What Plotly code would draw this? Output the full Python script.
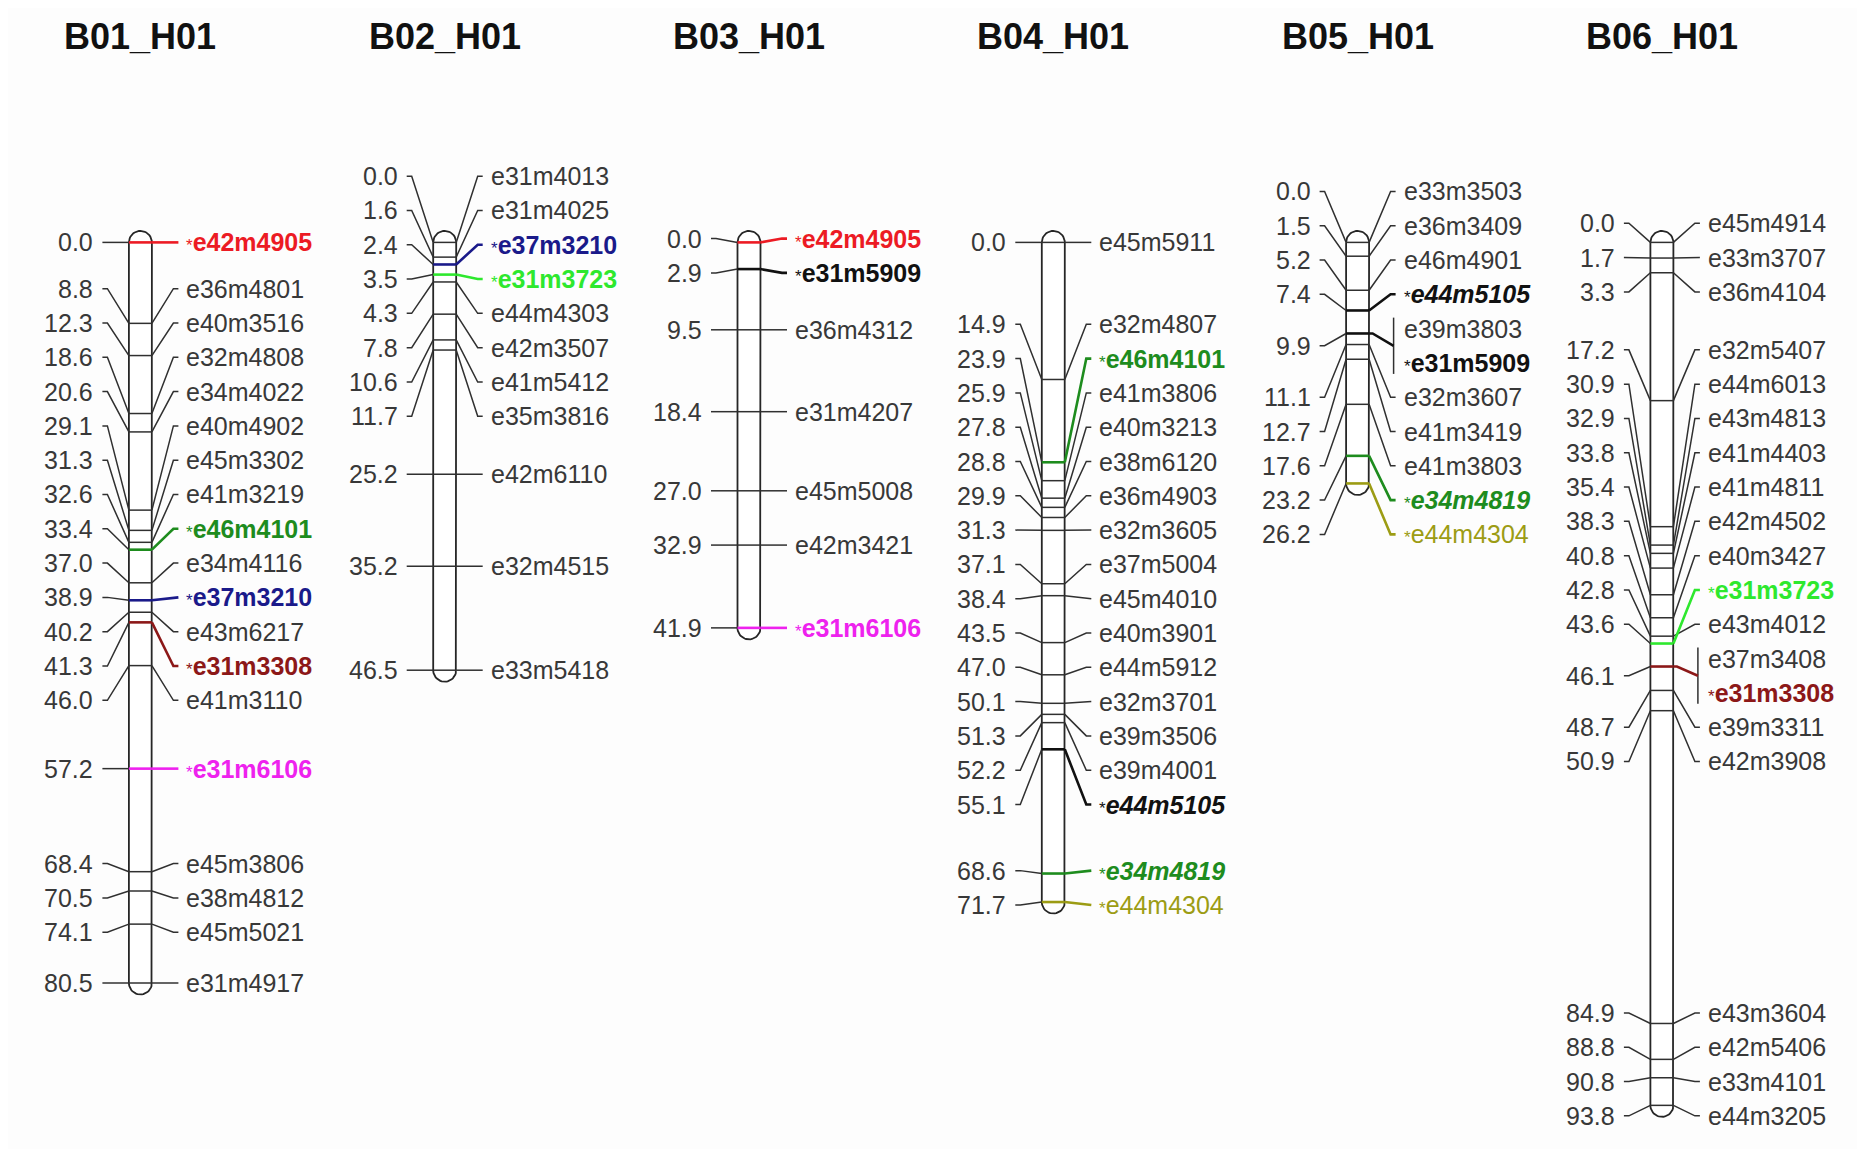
import numpy as np
import plotly.graph_objects as go

# ---------------- data ----------------
CHROMS = ["B01_H01", "B02_H01", "B03_H01", "B04_H01", "B05_H01", "B06_H01"]

B01_MARKERS = ["*e42m4905", "e36m4801", "e40m3516", "e32m4808", "e34m4022", "e40m4902",
               "e45m3302", "e41m3219", "*e46m4101", "e34m4116", "*e37m3210", "e43m6217",
               "*e31m3308", "e41m3110", "*e31m6106", "e45m3806", "e38m4812", "e45m5021",
               "e31m4917"]
B01_POS = [0.0, 8.8, 12.3, 18.6, 20.6, 29.1, 31.3, 32.6, 33.4, 37.0, 38.9, 40.2, 41.3,
           46.0, 57.2, 68.4, 70.5, 74.1, 80.5]

B02_MARKERS = ["e31m4013", "e31m4025", "*e37m3210", "*e31m3723", "e44m4303", "e42m3507",
               "e41m5412", "e35m3816", "e42m6110", "e32m4515", "e33m5418"]
B02_POS = [0.0, 1.6, 2.4, 3.5, 4.3, 7.8, 10.6, 11.7, 25.2, 35.2, 46.5]

B03_MARKERS = ["*e42m4905", "*e31m5909", "e36m4312", "e31m4207", "e45m5008", "e42m3421",
               "*e31m6106"]
B03_POS = [0.0, 2.9, 9.5, 18.4, 27.0, 32.9, 41.9]

B04_MARKERS = ["e45m5911", "e32m4807", "*e46m4101", "e41m3806", "e40m3213", "e38m6120",
               "e36m4903", "e32m3605", "e37m5004", "e45m4010", "e40m3901", "e44m5912",
               "e32m3701", "e39m3506", "e39m4001", "*e44m5105", "*e34m4819", "*e44m4304"]
B04_POS = [0.0, 14.9, 23.9, 25.9, 27.8, 28.8, 29.9, 31.3, 37.1, 38.4, 43.5, 47.0, 50.1,
           51.3, 52.2, 55.1, 68.6, 71.7]

B05_MARKERS = ["e33m3503", "e36m3409", "e46m4901", "*e44m5105", "e39m3803", "*e31m5909",
               "e32m3607", "e41m3419", "e41m3803", "*e34m4819", "*e44m4304"]
B05_POS = [0.0, 1.5, 5.2, 7.4, 9.9, 9.9, 11.1, 12.7, 17.6, 23.2, 26.2]

B06_MARKERS = ["e45m4914", "e33m3707", "e36m4104", "e32m5407", "e44m6013", "e43m4813",
               "e41m4403", "e41m4811", "e42m4502", "e40m3427", "*e31m3723", "e43m4012",
               "e37m3408", "*e31m3308", "e39m3311", "e42m3908", "e43m3604", "e42m5406",
               "e33m4101", "e44m3205"]
B06_POS = [0.0, 1.7, 3.3, 17.2, 30.9, 32.9, 33.8, 35.4, 38.3, 40.8, 43.6, 42.8, 46.1,
           46.1, 48.7, 50.9, 84.9, 88.8, 90.8, 93.8]

MARKERS = [B01_MARKERS, B02_MARKERS, B03_MARKERS, B04_MARKERS, B05_MARKERS, B06_MARKERS]
POSITIONS = [B01_POS, B02_POS, B03_POS, B04_POS, B05_POS, B06_POS]

# ---------------- styles ----------------
HIGHLIGHT = {
    "*e42m4905": dict(color="#ec1b24", bold=True, italic=False),
    "*e46m4101": dict(color="#1e8c1e", bold=True, italic=False),
    "*e37m3210": dict(color="#1a1a8a", bold=True, italic=False),
    "*e31m3308": dict(color="#8c1818", bold=True, italic=False),
    "*e31m6106": dict(color="#ee22ee", bold=True, italic=False),
    "*e31m3723": dict(color="#2ee82e", bold=True, italic=False),
    "*e31m5909": dict(color="#111111", bold=True, italic=False),
    "*e44m5105": dict(color="#111111", bold=True, italic=True),
    "*e34m4819": dict(color="#1e8c1e", bold=True, italic=True),
    "*e44m4304": dict(color="#9c9c14", bold=False, italic=False),
}

FIG_W, FIG_H = 1849, 1141          # page body keeps an 8px margin
COL0_PX, COL_STEP_PX = 132.4, 304.3
CM0_PX, PX_PER_CM = 234.4, 9.2
TITLE_PX = 28.0
BAR_HALF = 11.5
SLOT_PX = 34.3
LINE_COLOR = "#303030"
TEXT_COLOR = "#383838"
FONT = "Liberation Sans, Arial, sans-serif"

ux = 1.0 / COL_STEP_PX
uy = 1.0 / PX_PER_CM
GAP = SLOT_PX * uy


def spread(pos, gap):
    groups = [[i] for i in range(len(pos))]

    def top(g):
        c = (pos[g[0]] + pos[g[-1]]) / 2.0
        return c - (len(g) - 1) / 2.0 * gap

    changed = True
    while changed:
        changed = False
        for k in range(len(groups) - 1):
            a, b = groups[k], groups[k + 1]
            a_bottom = top(a) + (len(a) - 1) * gap
            if top(b) - a_bottom < gap - 1e-9:
                groups[k] = a + b
                del groups[k + 1]
                changed = True
                break
    slots = []
    for g in groups:
        t = top(g)
        slots += [t + j * gap for j in range(len(g))]
    return slots


fig = go.Figure()
annotations = []

black_x, black_y = [], []
colored = {}   # color -> (xs, ys)


def add_black(xs, ys):
    black_x.extend(list(xs) + [None])
    black_y.extend(list(ys) + [None])


def add_col(color, xs, ys):
    cx_, cy_ = colored.setdefault(color, ([], []))
    cx_.extend(list(xs) + [None])
    cy_.extend(list(ys) + [None])


for ci, (name, mk, pos) in enumerate(zip(CHROMS, MARKERS, POSITIONS)):
    cx = ci
    L = max(pos)
    # chromosome bar outline
    t1 = np.linspace(np.pi, 0, 25)
    t2 = np.linspace(0, np.pi, 25)
    bx = np.concatenate([cx + BAR_HALF * np.cos(t1) * ux, cx + BAR_HALF * np.cos(t2) * ux, [cx - BAR_HALF * ux]])
    by = np.concatenate([0 - BAR_HALF * np.sin(t1) * uy, L + BAR_HALF * np.sin(t2) * uy, [0]])
    fig.add_trace(go.Scatter(x=bx, y=by, mode="lines", fill="toself", fillcolor="white",
                             line=dict(color="#262626", width=1.8), hoverinfo="skip",
                             showlegend=False))

    slots = spread(pos, GAP)
    # left labels: sorted slots paired with sorted positions, duplicates averaged
    order = sorted(range(len(pos)), key=lambda j: pos[j])
    sslots = sorted(slots)
    left = {}
    for k, j in enumerate(order):
        left.setdefault(pos[j], []).append(sslots[k])

    for p, sl in left.items():
        ly = float(np.mean(sl))
        add_black([cx - 38 * ux, cx - 33 * ux, cx - BAR_HALF * ux], [ly, ly, p])
        annotations.append(dict(x=cx - 45 * ux, y=ly, xref="x", yref="y", text=f"{p:.1f}",
                                xanchor="right", yanchor="middle", showarrow=False,
                                font=dict(family=FONT, size=25, color=TEXT_COLOR)))

    # right side
    done = set()
    for j, (m, p) in enumerate(zip(mk, pos)):
        dup = [k for k in range(len(pos)) if pos[k] == p]
        hl = None
        for k in dup:
            if mk[k] in HIGHLIGHT:
                hl = HIGHLIGHT[mk[k]]
        if p not in done:
            done.add(p)
            if hl:
                add_col(hl["color"], [cx - BAR_HALF * ux, cx + BAR_HALF * ux], [p, p])
            else:
                add_black([cx - BAR_HALF * ux, cx + BAR_HALF * ux], [p, p])
            if len(dup) > 1:
                ys = [slots[k] for k in dup]
                mid = float(np.mean(ys))
                seg = ([cx + BAR_HALF * ux, cx + 15 * ux, cx + 36 * ux], [p, p, mid])
                if hl:
                    add_col(hl["color"], *seg)
                else:
                    add_black(*seg)
                add_black([cx + 36 * ux, cx + 36 * ux],
                          [min(ys) - 11 * uy, max(ys) + 11 * uy])
        if len(dup) == 1:
            seg = ([cx + BAR_HALF * ux, cx + 33 * ux, cx + 38 * ux], [p, slots[j], slots[j]])
            if m in HIGHLIGHT:
                add_col(HIGHLIGHT[m]["color"], *seg)
            else:
                add_black(*seg)
        # right text
        if m in HIGHLIGHT:
            st = HIGHLIGHT[m]
            body = m[1:]
            if st["bold"]:
                body = "<b>" + body + "</b>"
            if st["italic"]:
                body = "<i>" + body + "</i>"
            txt = "<span style='font-size:17px'>*</span>" + body
            col = st["color"]
        else:
            txt = m
            col = TEXT_COLOR
        annotations.append(dict(x=cx + 44 * ux, y=slots[j], xref="x", yref="y", text=txt,
                                xanchor="left", yanchor="middle", showarrow=False,
                                font=dict(family=FONT, size=25, color=col)))

    annotations.append(dict(x=cx, y=(TITLE_PX - CM0_PX) * uy, xref="x", yref="y",
                            text="<b>" + name + "</b>", xanchor="center", yanchor="middle",
                            showarrow=False,
                            font=dict(family="Liberation Sans, Arial, sans-serif",
                                      size=36, color="#111111")))

fig.add_trace(go.Scatter(x=black_x, y=black_y, mode="lines",
                         line=dict(color=LINE_COLOR, width=1.5), hoverinfo="skip",
                         showlegend=False))
for color, (xs, ys) in colored.items():
    fig.add_trace(go.Scatter(x=xs, y=ys, mode="lines", line=dict(color=color, width=2.6),
                             hoverinfo="skip", showlegend=False))

fig.update_layout(
    width=FIG_W, height=FIG_H,
    margin=dict(l=0, r=0, t=0, b=0),
    paper_bgcolor="#fdfdfd", plot_bgcolor="#fdfdfd",
    xaxis=dict(range=[-COL0_PX * ux, (FIG_W - COL0_PX) * ux], visible=False, fixedrange=True),
    yaxis=dict(range=[(FIG_H - CM0_PX) * uy, -CM0_PX * uy], visible=False, fixedrange=True),
    annotations=annotations,
    showlegend=False,
)

fig.write_html("out.html")
